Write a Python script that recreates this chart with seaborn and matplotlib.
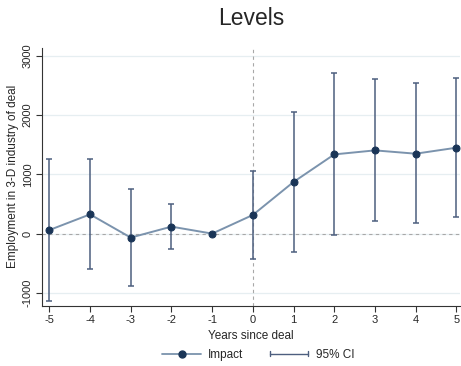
import numpy as np
import pandas as pd
import seaborn as sns
import matplotlib
matplotlib.use("Agg")
import matplotlib.pyplot as plt
from matplotlib.legend_handler import HandlerBase
from matplotlib.lines import Line2D

# Event-study estimates: employment effect by years since deal
years = [-5, -4, -3, -2, -1, 0, 1, 2, 3, 4, 5]
impact = [60, 325, -67, 118, 0, 315, 872, 1337, 1405, 1349, 1450]
ci_low = [-1130, -596, -882, -253, np.nan, -427, -304, -22, 207, 180, 282]
ci_high = [1253, 1253, 759, 494, np.nan, 1057, 2057, 2703, 2609, 2541, 2631]
y_ticks = [-1000, 0, 1000, 2000, 3000]

df = pd.DataFrame({"year": years, "impact": impact, "lo": ci_low, "hi": ci_high})

sns.set_theme(style="white")
plt.rcParams["font.family"] = ["Liberation Sans", "DejaVu Sans"]

line_col = "#7b93ad"
marker_col = "#1a3557"
ci_col = "#4d5f7f"
grid_col = "#e6eef1"

fig = plt.figure(figsize=(4.61, 3.66), dpi=100)
ax = fig.add_axes([0.092, 0.165, 0.905, 0.705])

for yv in y_ticks:
    ax.axhline(yv, color=grid_col, lw=0.9, zorder=0)
ax.axhline(0, color="#a8a8a8", lw=0.8, ls=(0, (3, 3)), zorder=1)
ax.axvline(0, color="#a8a8a8", lw=0.8, ls=(0, (3, 3)), zorder=1)

ci = df.dropna()
ax.errorbar(ci["year"], (ci["lo"] + ci["hi"]) / 2,
            yerr=(ci["hi"] - ci["lo"]) / 2, fmt="none",
            ecolor=ci_col, elinewidth=1.1, capsize=2.2, capthick=1.1, zorder=2)

sns.lineplot(data=df, x="year", y="impact", ax=ax, color=line_col, lw=1.4,
             marker="o", markersize=5, markerfacecolor=marker_col,
             markeredgecolor=marker_col, zorder=3)

ax.set_xlim(-5.17, 5.08)
ax.set_ylim(-1215, 3140)
ax.set_xticks(years)
ax.set_xticklabels([str(v) for v in years])
ax.set_yticks(y_ticks)
ax.set_yticklabels([str(v) for v in y_ticks], rotation=90, va="center")
ax.tick_params(axis="both", direction="out", length=4, width=0.8,
               color="#333333", labelsize=8, pad=3, bottom=True, left=True)
for s in ["top", "right"]:
    ax.spines[s].set_visible(False)
for s in ["left", "bottom"]:
    ax.spines[s].set_color("#333333")
    ax.spines[s].set_linewidth(0.8)

ax.set_xlabel("Years since deal", fontsize=8.5, labelpad=3.5)
ax.set_ylabel("Employment in 3-D industry of deal", fontsize=8.5, labelpad=3)
fig.text(0.545, 0.95, "Levels", fontsize=16.5, ha="center", va="center")


class CIHandler(HandlerBase):
    def create_artists(self, legend, orig_handle, xdescent, ydescent,
                       width, height, fontsize, trans):
        y = height / 2 - ydescent
        x0, x1 = -xdescent, width - xdescent
        h = height * 0.3
        arts = [
            Line2D([x0, x1], [y, y], color=ci_col, lw=1.0),
            Line2D([x0, x0], [y - h, y + h], color=ci_col, lw=1.0),
            Line2D([x1, x1], [y - h, y + h], color=ci_col, lw=1.0),
        ]
        for a in arts:
            a.set_transform(trans)
        return arts


impact_handle = Line2D([], [], color=line_col, lw=1.3, marker="o",
                       markersize=5, markerfacecolor=marker_col,
                       markeredgecolor=marker_col)
ci_handle = Line2D([], [])
fig.legend([impact_handle, ci_handle], ["Impact", "95% CI"],
           handler_map={ci_handle: CIHandler()},
           loc="center", bbox_to_anchor=(0.56, 0.03), ncol=2,
           frameon=False, fontsize=8.5, handlelength=3.3,
           columnspacing=2.2, handletextpad=0.6)

fig.savefig("out.png", dpi=100)
